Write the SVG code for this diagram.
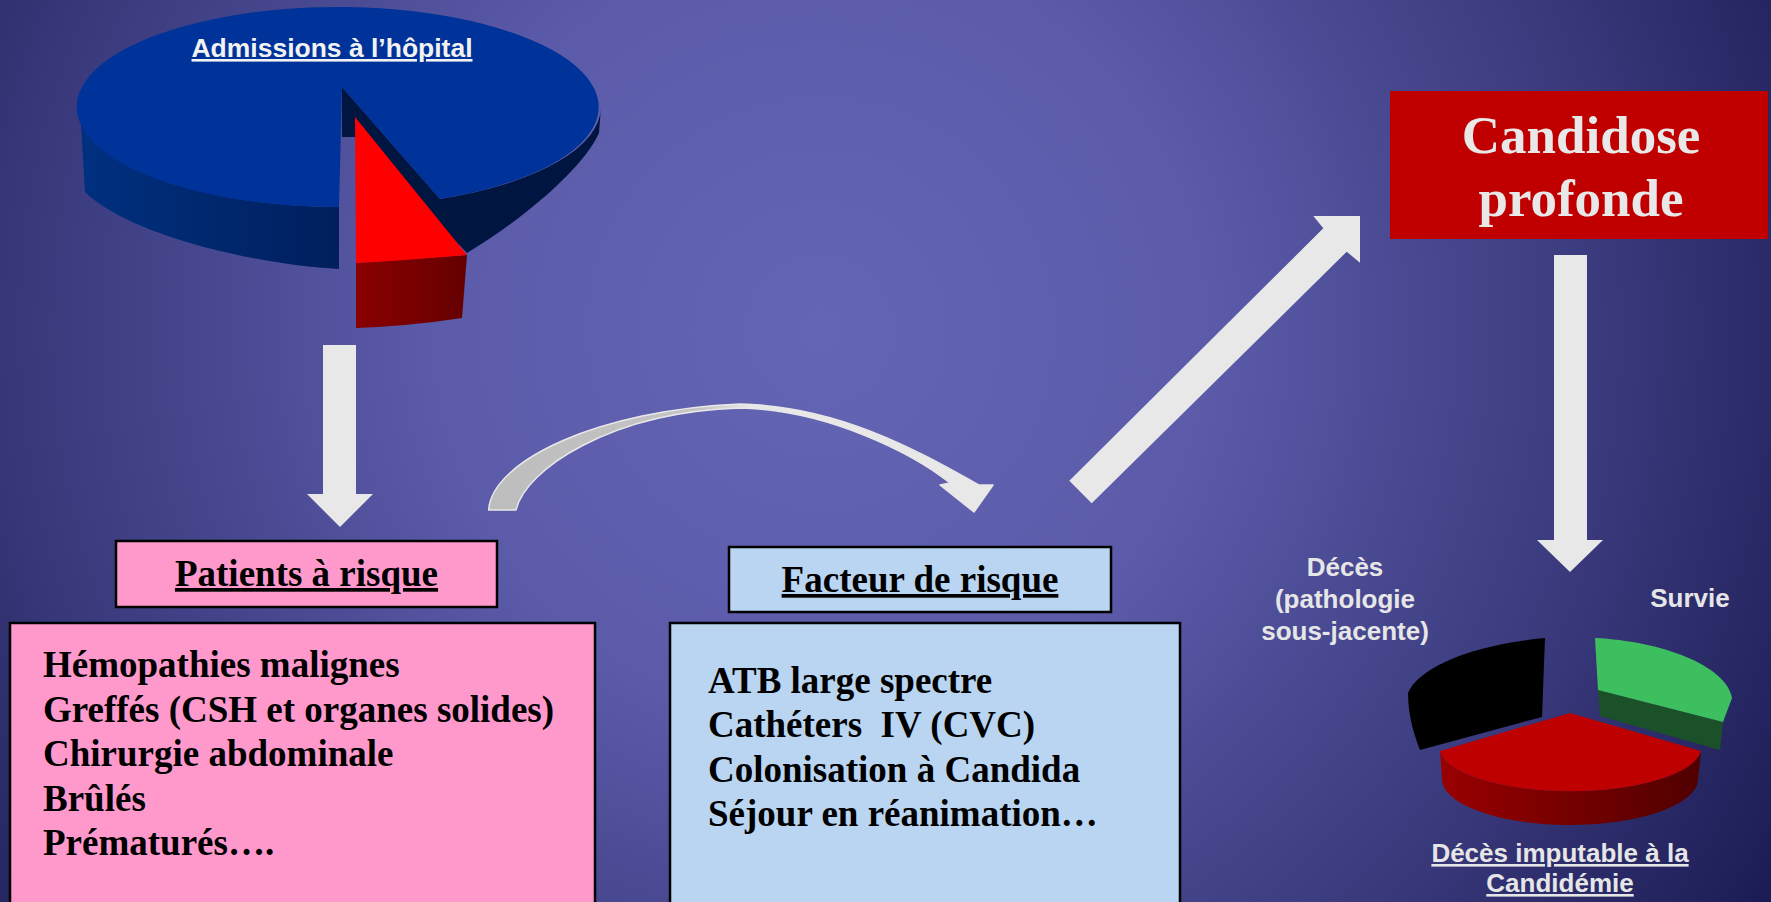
<svg xmlns="http://www.w3.org/2000/svg" width="1771" height="902" viewBox="0 0 1771 902">
  <style>
    .serif { font-family: "Liberation Serif", "Times New Roman", serif; font-weight: bold; }
    .sans { font-family: "Liberation Sans", Arial, sans-serif; font-weight: bold; }
    .box { stroke: #000; stroke-width: 2.5; }
    .pink { fill: #ff99cc; }
    .blue { fill: #b9d5f1; }
    .title { font-size: 37px; fill: #000; text-anchor: middle; text-decoration: underline; }
    .item { font-size: 37px; fill: #000; }
    .label { font-size: 26px; fill: #e6e6e6; text-anchor: middle; }
    .arrow { fill: #e8e8e8; }
  </style>
  <defs>
    <radialGradient id="bg" gradientUnits="userSpaceOnUse" cx="820" cy="330" r="1100">
      <stop offset="0" stop-color="#6565b5"/>
      <stop offset="0.35" stop-color="#5b5baa"/>
      <stop offset="0.75" stop-color="#363678"/>
      <stop offset="1" stop-color="#1c1c55"/>
    </radialGradient>
    <linearGradient id="blueSide" gradientUnits="userSpaceOnUse" x1="80" y1="0" x2="339" y2="0">
      <stop offset="0" stop-color="#003080"/>
      <stop offset="1" stop-color="#001f5c"/>
    </linearGradient>
    <linearGradient id="redSide" gradientUnits="userSpaceOnUse" x1="356" y1="0" x2="467" y2="0">
      <stop offset="0" stop-color="#8a0000"/>
      <stop offset="1" stop-color="#650000"/>
    </linearGradient>
    <linearGradient id="redSide2" gradientUnits="userSpaceOnUse" x1="1440" y1="0" x2="1701" y2="0">
      <stop offset="0" stop-color="#9a0000"/>
      <stop offset="1" stop-color="#500000"/>
    </linearGradient>
    <linearGradient id="curveFill" gradientUnits="userSpaceOnUse" x1="488" y1="0" x2="993" y2="0">
      <stop offset="0" stop-color="#bdbdbd"/>
      <stop offset="0.42" stop-color="#c4c4c4"/>
      <stop offset="0.52" stop-color="#e8e8e8"/>
      <stop offset="1" stop-color="#e8e8e8"/>
    </linearGradient>
  </defs>

  <rect width="1771" height="902" fill="url(#bg)"/>

  <!-- hospital admissions pie with the at-risk slice pulled out -->
  <g id="pie-admissions">
    <path d="M80,107 A261,100 0 0 0 339,207 L339,269 C250,264 128,234 85,192 Z" fill="url(#blueSide)"/>
    <path d="M342,87 L440,199 A261,100 0 0 0 601,107 L599,133 C585,165 530,215 467,253 L355,137 L342,137 Z" fill="#001640"/>
    <path d="M342,87 L440,199 A261,100 0 1 0 339,207 Z" fill="#003399"/>
    <path d="M356,263 L467,255 L462,318 Q410,326 356,328 Z" fill="url(#redSide)"/>
    <path d="M355,117 L467,255 Q410,260 356,263 Z" fill="#ff0000"/>
    <text class="sans" x="332" y="57" font-size="26" fill="#f2f2f2" text-anchor="middle" text-decoration="underline" textLength="281" lengthAdjust="spacingAndGlyphs">Admissions à l’hôpital</text>
  </g>

  <!-- connectors -->
  <g id="connectors">
    <path class="arrow" d="M323,345 L356,345 L356,494 L373,494 L340,527 L307,494 L323,494 Z"/>
    <path d="M488.6,510 C492,460 600,410 740,404 C840,406 920,452 979,485 L993,485 L974,512 L940,485 L950,483 C915,455 830,410 740,408 C610,412 525,470 516,510 Z" fill="url(#curveFill)" stroke="#e8e8e8" stroke-width="1.5" stroke-linejoin="round"/>
    <path class="arrow" d="M1069.3,480.7 L1323.3,228.3 L1313.3,216 L1360,216 L1360,262.7 L1346.7,251.7 L1091.7,503.3 Z"/>
    <path class="arrow" d="M1554,255 L1587,255 L1587,540 L1603,540 L1570,572 L1537,540 L1554,540 Z"/>
  </g>

  <!-- at-risk patients -->
  <g id="patients">
    <rect class="box pink" x="116" y="541" width="381" height="66"/>
    <text class="serif title" x="306.5" y="586">Patients à risque</text>
    <rect class="box pink" x="10" y="623" width="585" height="290"/>
    <text class="serif item" x="43" y="677">Hémopathies malignes</text>
    <text class="serif item" x="43" y="721.5">Greffés (CSH et organes solides)</text>
    <text class="serif item" x="43" y="766">Chirurgie abdominale</text>
    <text class="serif item" x="43" y="810.5">Brûlés</text>
    <text class="serif item" x="43" y="855">Prématurés….</text>
  </g>

  <!-- risk factors -->
  <g id="facteurs">
    <rect class="box blue" x="729" y="547" width="382" height="65"/>
    <text class="serif title" x="920" y="592">Facteur de risque</text>
    <rect class="box blue" x="670" y="623" width="510" height="290"/>
    <text class="serif item" x="708" y="693" xml:space="preserve">ATB large spectre</text>
    <text class="serif item" x="708" y="737" xml:space="preserve">Cathéters  IV (CVC)</text>
    <text class="serif item" x="708" y="781.5">Colonisation à Candida</text>
    <text class="serif item" x="708" y="825.5">Séjour en réanimation…</text>
  </g>

  <!-- invasive candidiasis -->
  <g id="candidose">
    <rect x="1390" y="91" width="378" height="148" fill="#c00000"/>
    <text class="serif" x="1581" y="153" font-size="53" fill="#e8e8e8" text-anchor="middle">Candidose</text>
    <text class="serif" x="1581" y="216" font-size="53" fill="#e8e8e8" text-anchor="middle">profonde</text>
  </g>

  <!-- outcome pie -->
  <g id="pie-outcome">
    <path d="M1545,638 L1542,717 L1420,750 C1414,735 1408,715 1408,693 C1418,668 1470,645 1545,638 Z" fill="#000"/>
    <path d="M1598,690 L1723,722 L1720,750 L1600,716 Z" fill="#1b5128"/>
    <path d="M1595,638 C1660,641 1726,665 1732,698 L1723,722 L1598,690 Z" fill="#3dbf5f"/>
    <path d="M1440,751 A131,44 0 0 0 1701,751 L1698,780 A128,46 0 0 1 1442,778 Z" fill="url(#redSide2)"/>
    <path d="M1570,713 L1440,751 A131,44 0 0 0 1701,751 Z" fill="#bf0000"/>
    <text class="sans label" x="1345" y="576">Décès</text>
    <text class="sans label" x="1345" y="608">(pathologie</text>
    <text class="sans label" x="1345" y="640">sous-jacente)</text>
    <text class="sans label" x="1690" y="607">Survie</text>
    <text class="sans label" x="1560" y="862" text-decoration="underline">Décès imputable à la</text>
    <text class="sans label" x="1560" y="892" text-decoration="underline">Candidémie</text>
  </g>
</svg>
